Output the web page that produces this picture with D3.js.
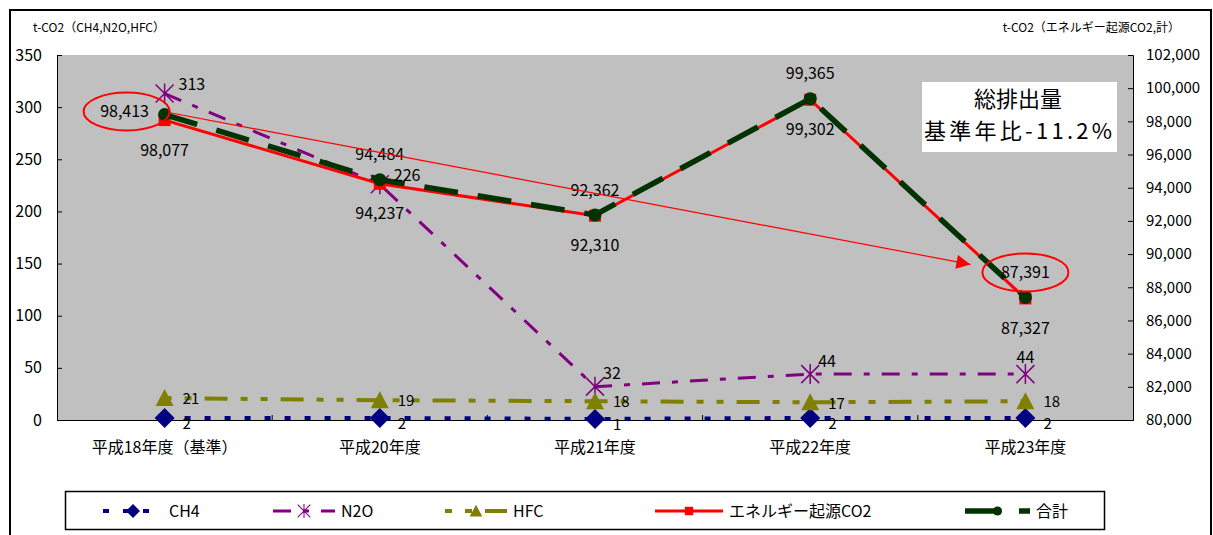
<!doctype html>
<html lang="ja">
<head>
<meta charset="utf-8">
<title>温室効果ガス排出量</title>
<script src="https://cdn.jsdelivr.net/npm/d3@7"></script>
<style>
  body { margin: 0; background: #fff; }
  svg text { font-family: "Noto Sans CJK JP", "DejaVu Sans", sans-serif; fill: #000; }
</style>
</head>
<body>
<svg id="chart" width="1213" height="535"></svg>
<script>
// data
var years = ["平成18年度（基準）", "平成20年度", "平成21年度", "平成22年度", "平成23年度"];
var ch4 = [2, 2, 1, 2, 2];
var n2o = [313, 226, 32, 44, 44];
var hfc = [21, 19, 18, 17, 18];
var energyCO2 = [98077, 94237, 92310, 99302, 87327];
var total = [98413, 94484, 92362, 99365, 87391];
var leftTicks = [0, 50, 100, 150, 200, 250, 300, 350];
var rightTicks = d3.range(80000, 102001, 2000);

var svg = d3.select("#chart");
var plot = {left: 57, right: 1133, top: 55, bottom: 420};

// outer frame
svg.append("rect").attr("x", 10).attr("y", 10).attr("width", 1201).attr("height", 540)
  .attr("fill", "#fff").attr("stroke", "#000").attr("stroke-width", 2);

svg.append("rect").attr("x", plot.left).attr("y", plot.top)
  .attr("width", plot.right - plot.left).attr("height", plot.bottom - plot.top)
  .attr("fill", "#c0c0c0");

var x = d3.scaleBand().domain(years).range([plot.left, plot.right]);
var cx = function(i) { return x(years[i]) + x.bandwidth() / 2; };
var y1 = d3.scaleLinear().domain([0, 350]).range([plot.bottom, plot.top]);
var y2 = d3.scaleLinear().domain([80000, 102000]).range([plot.bottom, plot.top]);

// axes (ticks point inward)
var gl = svg.append("g").attr("transform", "translate(" + plot.left + ",0)")
  .call(d3.axisRight(y1).tickValues(leftTicks).tickSize(5).tickFormat(""));
svg.append("g").selectAll("text").data(leftTicks).join("text")
  .attr("x", 42).attr("y", function(d) { return y1(d); }).attr("dy", "0.35em")
  .attr("text-anchor", "end").attr("font-size", 16).text(function(d) { return d; });

var gr = svg.append("g").attr("transform", "translate(" + plot.right + ",0)")
  .call(d3.axisLeft(y2).tickValues(rightTicks).tickSize(5).tickFormat(""));
svg.append("g").selectAll("text").data(rightTicks).join("text")
  .attr("x", 1146).attr("y", function(d) { return y2(d); }).attr("dy", "0.35em")
  .attr("font-size", 15).text(d3.format(","));

var gb = svg.append("g").attr("transform", "translate(0," + plot.bottom + ")")
  .call(d3.axisTop(x).tickSize(0).tickFormat(""));
gb.selectAll(".bound").data(d3.range(1, years.length)).join("line")
  .attr("x1", function(i) { return x(years[i]); }).attr("x2", function(i) { return x(years[i]); })
  .attr("y1", 0).attr("y2", -5).attr("stroke", "#000");
svg.append("g").selectAll("text").data(years).join("text")
  .attr("x", function(d, i) { return cx(i); }).attr("y", 447).attr("dy", "0.35em")
  .attr("text-anchor", "middle").attr("font-size", 16).text(function(d) { return d; });
[gl, gr, gb].forEach(function(g) {
  g.select(".domain").attr("stroke", "#000");
  g.selectAll(".tick line").attr("stroke", "#000");
});

// axis titles
svg.append("text").attr("x", 33).attr("y", 28).attr("dy", "0.35em").attr("font-size", 12)
  .text("t-CO2（CH4,N2O,HFC）");
svg.append("text").attr("x", 1180).attr("y", 28).attr("dy", "0.35em").attr("font-size", 12)
  .attr("text-anchor", "end").text("t-CO2（エネルギー起源CO2,計）");

// series styles
var series = [
  {name: "CH4", values: ch4, y: y1, color: "#000080", width: 4, dash: "6,14", marker: "diamond"},
  {name: "N2O", values: n2o, y: y1, color: "#800080", width: 3, dash: "18,12,6,12", marker: "star"},
  {name: "HFC", values: hfc, y: y1, color: "#808000", width: 4, dash: "7,13,7,13,23,13", marker: "triangle"},
  {name: "エネルギー起源CO2", values: energyCO2, y: y2, color: "#ff0000", width: 3, dash: null, marker: "square"},
  {name: "合計", values: total, y: y2, color: "#003300", width: 5.5, dash: "34,20", marker: "circle"}
];

function drawMarker(g, type, color) {
  if (type === "diamond") {
    g.append("path").attr("d", "M0,-10L10,0L0,10L-10,0Z").attr("fill", color);
  } else if (type === "triangle") {
    g.append("path").attr("d", "M0,-9L9,8L-9,8Z").attr("fill", color);
  } else if (type === "square") {
    g.append("rect").attr("x", -6).attr("y", -6).attr("width", 12).attr("height", 12).attr("fill", color);
  } else if (type === "circle") {
    g.append("circle").attr("r", 6.5).attr("fill", color);
  } else if (type === "star") {
    g.append("path").attr("d", "M-9,-9L9,9M-9,9L9,-9M0,-10L0,10")
      .attr("stroke", color).attr("stroke-width", 1.5).attr("fill", "none");
  }
}

series.forEach(function(s) {
  var line = d3.line().x(function(d, i) { return cx(i); }).y(function(d) { return s.y(d); });
  svg.append("path").datum(s.values).attr("d", line).attr("fill", "none")
    .attr("stroke", s.color).attr("stroke-width", s.width)
    .attr("stroke-dasharray", s.dash);
  s.values.forEach(function(v, i) {
    var g = svg.append("g").attr("transform", "translate(" + cx(i) + "," + s.y(v) + ")");
    drawMarker(g, s.marker, s.color);
  });
});

// data labels
function label(px, py, txt, anchor, size) {
  svg.append("text").attr("x", px).attr("y", py).attr("dy", "0.35em")
    .attr("font-size", size || 16).attr("text-anchor", anchor || "start").text(txt);
}
var fmt = d3.format(",");
ch4.forEach(function(v, i) { label(cx(i) + 18, y1(v) + 6, v, "start", 15); });
hfc.forEach(function(v, i) { label(cx(i) + 18, y1(v) + 1, v, "start", 15); });
n2o.forEach(function(v, i) {
  if (i === n2o.length - 1) label(cx(i), y1(v) - 17, v, "middle");
  else if (i < 2) label(cx(i) + 14, y1(v) - 9, v);
  else label(cx(i) + 8, y1(v) - 13, v);
});
energyCO2.forEach(function(v, i) { label(cx(i), y2(v) + 30, fmt(v), "middle"); });
total.forEach(function(v, i) {
  if (i === 0) label(cx(i) - 40, y2(v) - 3, fmt(v), "middle");
  else label(cx(i), y2(v) - 25, fmt(v), "middle");
});

// annotation: arrow and ellipses
var last = total.length - 1;
svg.append("defs").append("marker").attr("id", "arrowhead")
  .attr("viewBox", "0 0 10 10").attr("refX", 10).attr("refY", 5)
  .attr("markerWidth", 16).attr("markerHeight", 14).attr("markerUnits", "userSpaceOnUse")
  .attr("orient", "auto")
  .append("path").attr("d", "M0,0L10,5L0,10Z").attr("fill", "#ff0000");
svg.append("line").attr("x1", cx(0) + 4).attr("y1", y2(total[0]) - 2)
  .attr("x2", cx(last) - 55).attr("y2", y2(total[last]) - 33)
  .attr("stroke", "#ff0000").attr("stroke-width", 1.2).attr("marker-end", "url(#arrowhead)");
svg.append("ellipse").attr("cx", cx(0) - 38).attr("cy", y2(total[0]) - 3)
  .attr("rx", 43).attr("ry", 19).attr("fill", "none").attr("stroke", "#ff0000").attr("stroke-width", 2);
svg.append("ellipse").attr("cx", cx(last)).attr("cy", y2(total[last]) - 25)
  .attr("rx", 43).attr("ry", 19).attr("fill", "none").attr("stroke", "#ff0000").attr("stroke-width", 2);

// note box
svg.append("rect").attr("x", 922).attr("y", 82).attr("width", 195).attr("height", 70).attr("fill", "#fff");
svg.append("text").attr("x", 1018).attr("y", 99).attr("dy", "0.35em").attr("text-anchor", "middle")
  .attr("font-size", 22).text("総排出量");
svg.append("text").attr("x", 1018).attr("y", 131).attr("dy", "0.35em").attr("text-anchor", "middle")
  .attr("font-size", 22).attr("textLength", 188).attr("lengthAdjust", "spacing").text("基準年比-11.2%");

// legend
svg.append("rect").attr("x", 65.5).attr("y", 491.5).attr("width", 1039).attr("height", 38)
  .attr("fill", "#fff").attr("stroke", "#000").attr("stroke-width", 1.5);
var legendX = [103, 273, 445, 655, 965];
var legendW = [60, 62, 62, 68, 65];
series.forEach(function(s, i) {
  var g = svg.append("g").attr("transform", "translate(" + legendX[i] + ",511)");
  g.append("line").attr("x1", 0).attr("x2", legendW[i]).attr("y1", 0).attr("y2", 0)
    .attr("stroke", s.color).attr("stroke-width", s.width).attr("stroke-dasharray", s.dash);
  var m = g.append("g").attr("transform", "translate(" + legendW[i] / 2 + ",0) scale(0.7)");
  drawMarker(m, s.marker, s.color);
  g.append("text").attr("x", legendW[i] + 6).attr("y", 0).attr("dy", "0.35em")
    .attr("font-size", 16).text(s.name);
});
</script>
</body>
</html>
